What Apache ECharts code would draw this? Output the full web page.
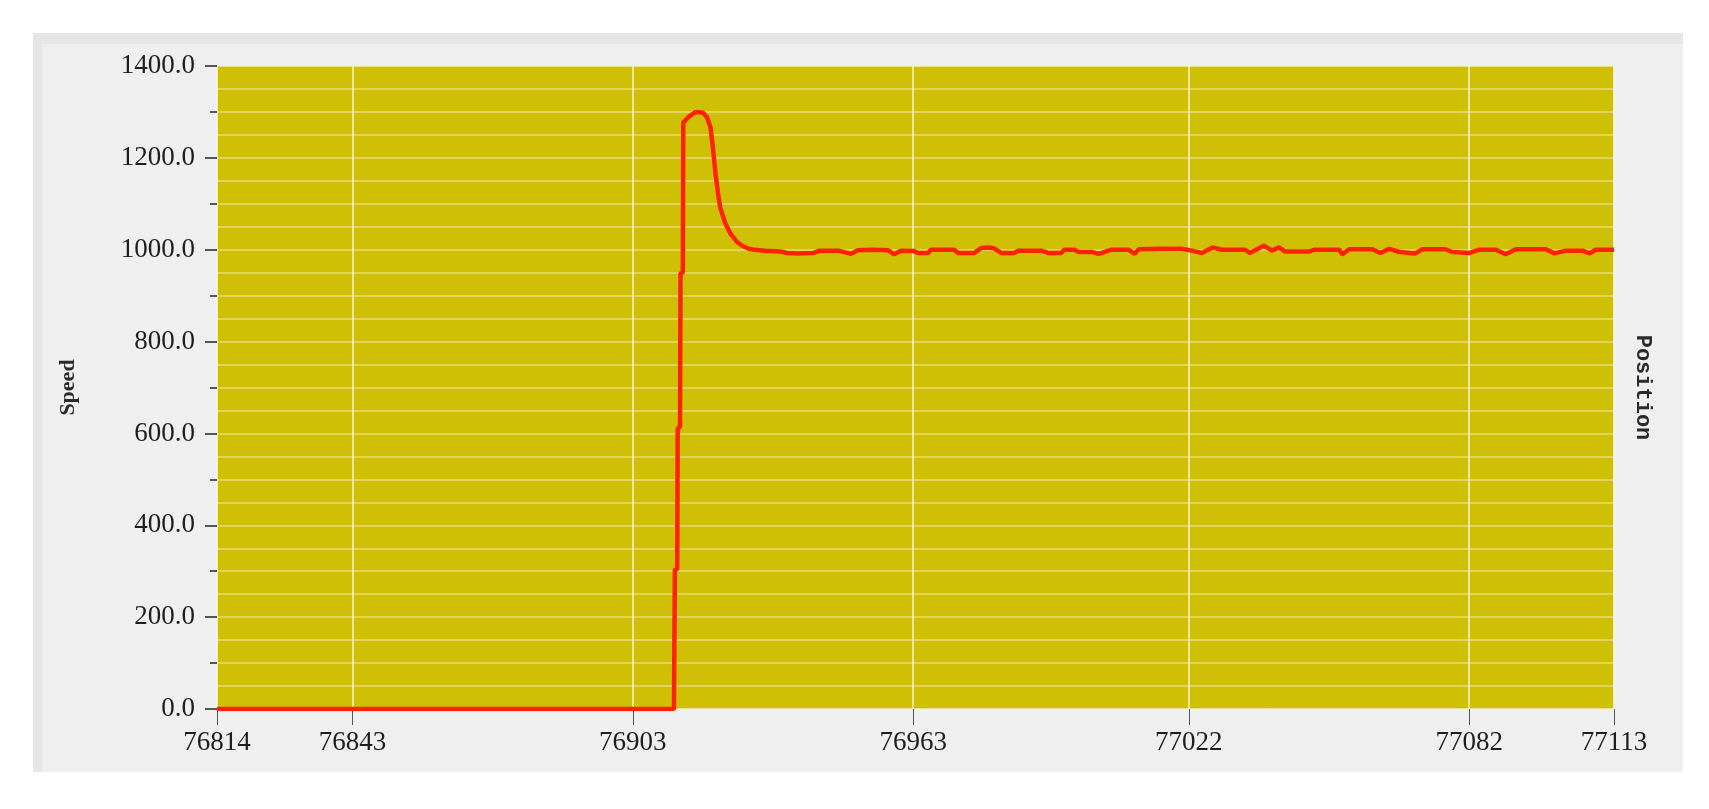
<!DOCTYPE html>
<html>
<head>
<meta charset="utf-8">
<title>Speed</title>
<script src="https://cdn.jsdelivr.net/npm/echarts@6/dist/echarts.min.js"></script>
<style>
  html, body { margin: 0; padding: 0; background: #ffffff; }
  #chart { width: 1709px; height: 809px; }
</style>
</head>
<body>
<div id="chart"></div>
<script>
  // x positions of the sampled points and the speed at each
  const positions = [
    76814, 76911.8, 76912.0, 76912.5, 76912.6, 76913.1, 76913.2, 76913.7, 76913.8,
    76915.0, 76916.5, 76918.0, 76918.8, 76919.6, 76920.1, 76920.7, 76921.2, 76921.7,
    76922.8, 76923.9, 76925.2, 76926.5, 76927.8, 76929.0,
    76931.4, 76934.6, 76936.0, 76938.3, 76941.7, 76943.0, 76947.0, 76949.7,
    76951.2, 76954.4, 76957.6, 76958.9, 76960.4, 76963.2, 76964.0, 76966.2, 76966.8,
    76971.8, 76972.6, 76976.1, 76977.6, 76979.1, 76980.3, 76981.8, 76984.6, 76985.5,
    76990.4, 76991.9, 76994.7, 76995.4, 76997.5, 76998.4, 77001.2, 77002.7, 77005.5,
    77009.1, 77010.4, 77011.3, 77016.2, 77020.5, 77022.6, 77024.8, 77027.1, 77029.1,
    77034.0, 77035.1, 77038.1, 77039.8, 77041.3, 77042.6, 77047.7, 77049.0, 77054.2,
    77054.8, 77056.3, 77061.3, 77063.0, 77064.9, 77067.1, 77070.5, 77072.0, 77076.9,
    77078.4, 77082.1, 77084.2, 77087.7, 77089.8, 77092.0, 77098.4, 77100.3, 77102.7,
    77106.3, 77107.8, 77109.1, 77113
  ];
  const speeds = [
    0, 0, 303, 305, 611, 614, 948, 951, 1277,
    1290, 1300, 1298, 1290, 1267, 1225, 1166, 1125, 1092,
    1057, 1035, 1018, 1008, 1002, 1000,
    998, 996, 993, 992, 993, 998, 998, 991,
    999, 1000, 999, 990, 998, 997, 993, 993, 1000,
    1000, 993, 993, 1004, 1005, 1003, 993, 993, 998,
    998, 993, 993, 1000, 1000, 995, 995, 991, 1000,
    1000, 991, 1001, 1002, 1002, 998, 993, 1005, 1000,
    1000, 993, 1009, 998, 1005, 996, 996, 1000, 1000,
    990, 1001, 1001, 993, 1002, 995, 992, 1001, 1001,
    995, 993, 1000, 1000, 990, 1001, 1001, 992, 998,
    998, 992, 1000, 1000
  ];
  const xTicks = [76814, 76843, 76903, 76963, 77022, 77082, 77113];

  const chart = echarts.init(document.getElementById('chart'));
  const labelFont = { fontFamily: 'Liberation Serif', fontSize: 27, color: '#1e1e1e' };

  chart.setOption({
    animation: false,
    graphic: [
      { type: 'rect', z: -100, shape: { x: 33, y: 33, width: 1650, height: 739 }, style: { fill: '#e6e6e6' } },
      { type: 'rect', z: -99, shape: { x: 42, y: 44, width: 1641, height: 728 }, style: { fill: '#efefef' } }
    ],
    grid: {
      left: 217,
      top: 66,
      right: 95,
      bottom: 100,
      show: true,
      backgroundColor: '#cfbf05',
      borderColor: '#ebe4a6',
      borderWidth: 1
    },
    xAxis: {
      type: 'value',
      min: 76814,
      max: 77113,
      axisLine: { show: false },
      axisTick: { customValues: xTicks, length: 16, lineStyle: { color: '#555', width: 1 } },
      axisLabel: Object.assign({
        customValues: xTicks, margin: 20, showMinLabel: true, showMaxLabel: true,
        formatter: v => String(v)
      }, labelFont),
      splitLine: { show: true, lineStyle: { color: 'rgba(255,255,255,0.6)', width: 2 } }
    },
    yAxis: [
      {
        type: 'value',
        min: 0,
        max: 1400,
        interval: 200,
        name: 'Speed',
        nameLocation: 'middle',
        nameGap: 138,
        nameTextStyle: { fontFamily: 'Liberation Serif', fontSize: 22, fontWeight: 'bold', color: '#2a2a2a' },
        axisLine: { show: false },
        axisTick: { show: true, length: 12, lineStyle: { color: '#555', width: 2 } },
        minorTick: { show: true, splitNumber: 2, length: 7, lineStyle: { color: '#555', width: 2 } },
        axisLabel: Object.assign({ margin: 22, formatter: v => v.toFixed(1) }, labelFont),
        splitLine: { show: false }
      },
      {
        type: 'value',
        position: 'right',
        min: 0,
        max: 1400,
        interval: 50,
        name: 'Position',
        nameLocation: 'middle',
        nameGap: 18,
        nameRotate: -90,
        nameTextStyle: { fontFamily: 'Liberation Mono', fontSize: 22, fontWeight: 'bold', color: '#2a2a2a' },
        axisLine: { show: false },
        axisTick: { show: false },
        axisLabel: { show: false },
        splitLine: { show: true, lineStyle: { color: 'rgba(255,255,255,0.35)', width: 2 } }
      }
    ],
    series: [
      {
        type: 'line',
        yAxisIndex: 0,
        showSymbol: false,
        color: '#ff2200',
        lineStyle: { width: 4.5, color: '#ff2200' },
        data: positions.map((p, i) => [p, speeds[i]])
      }
    ]
  });

  window.addEventListener('resize', () => chart.resize());
</script>
</body>
</html>
